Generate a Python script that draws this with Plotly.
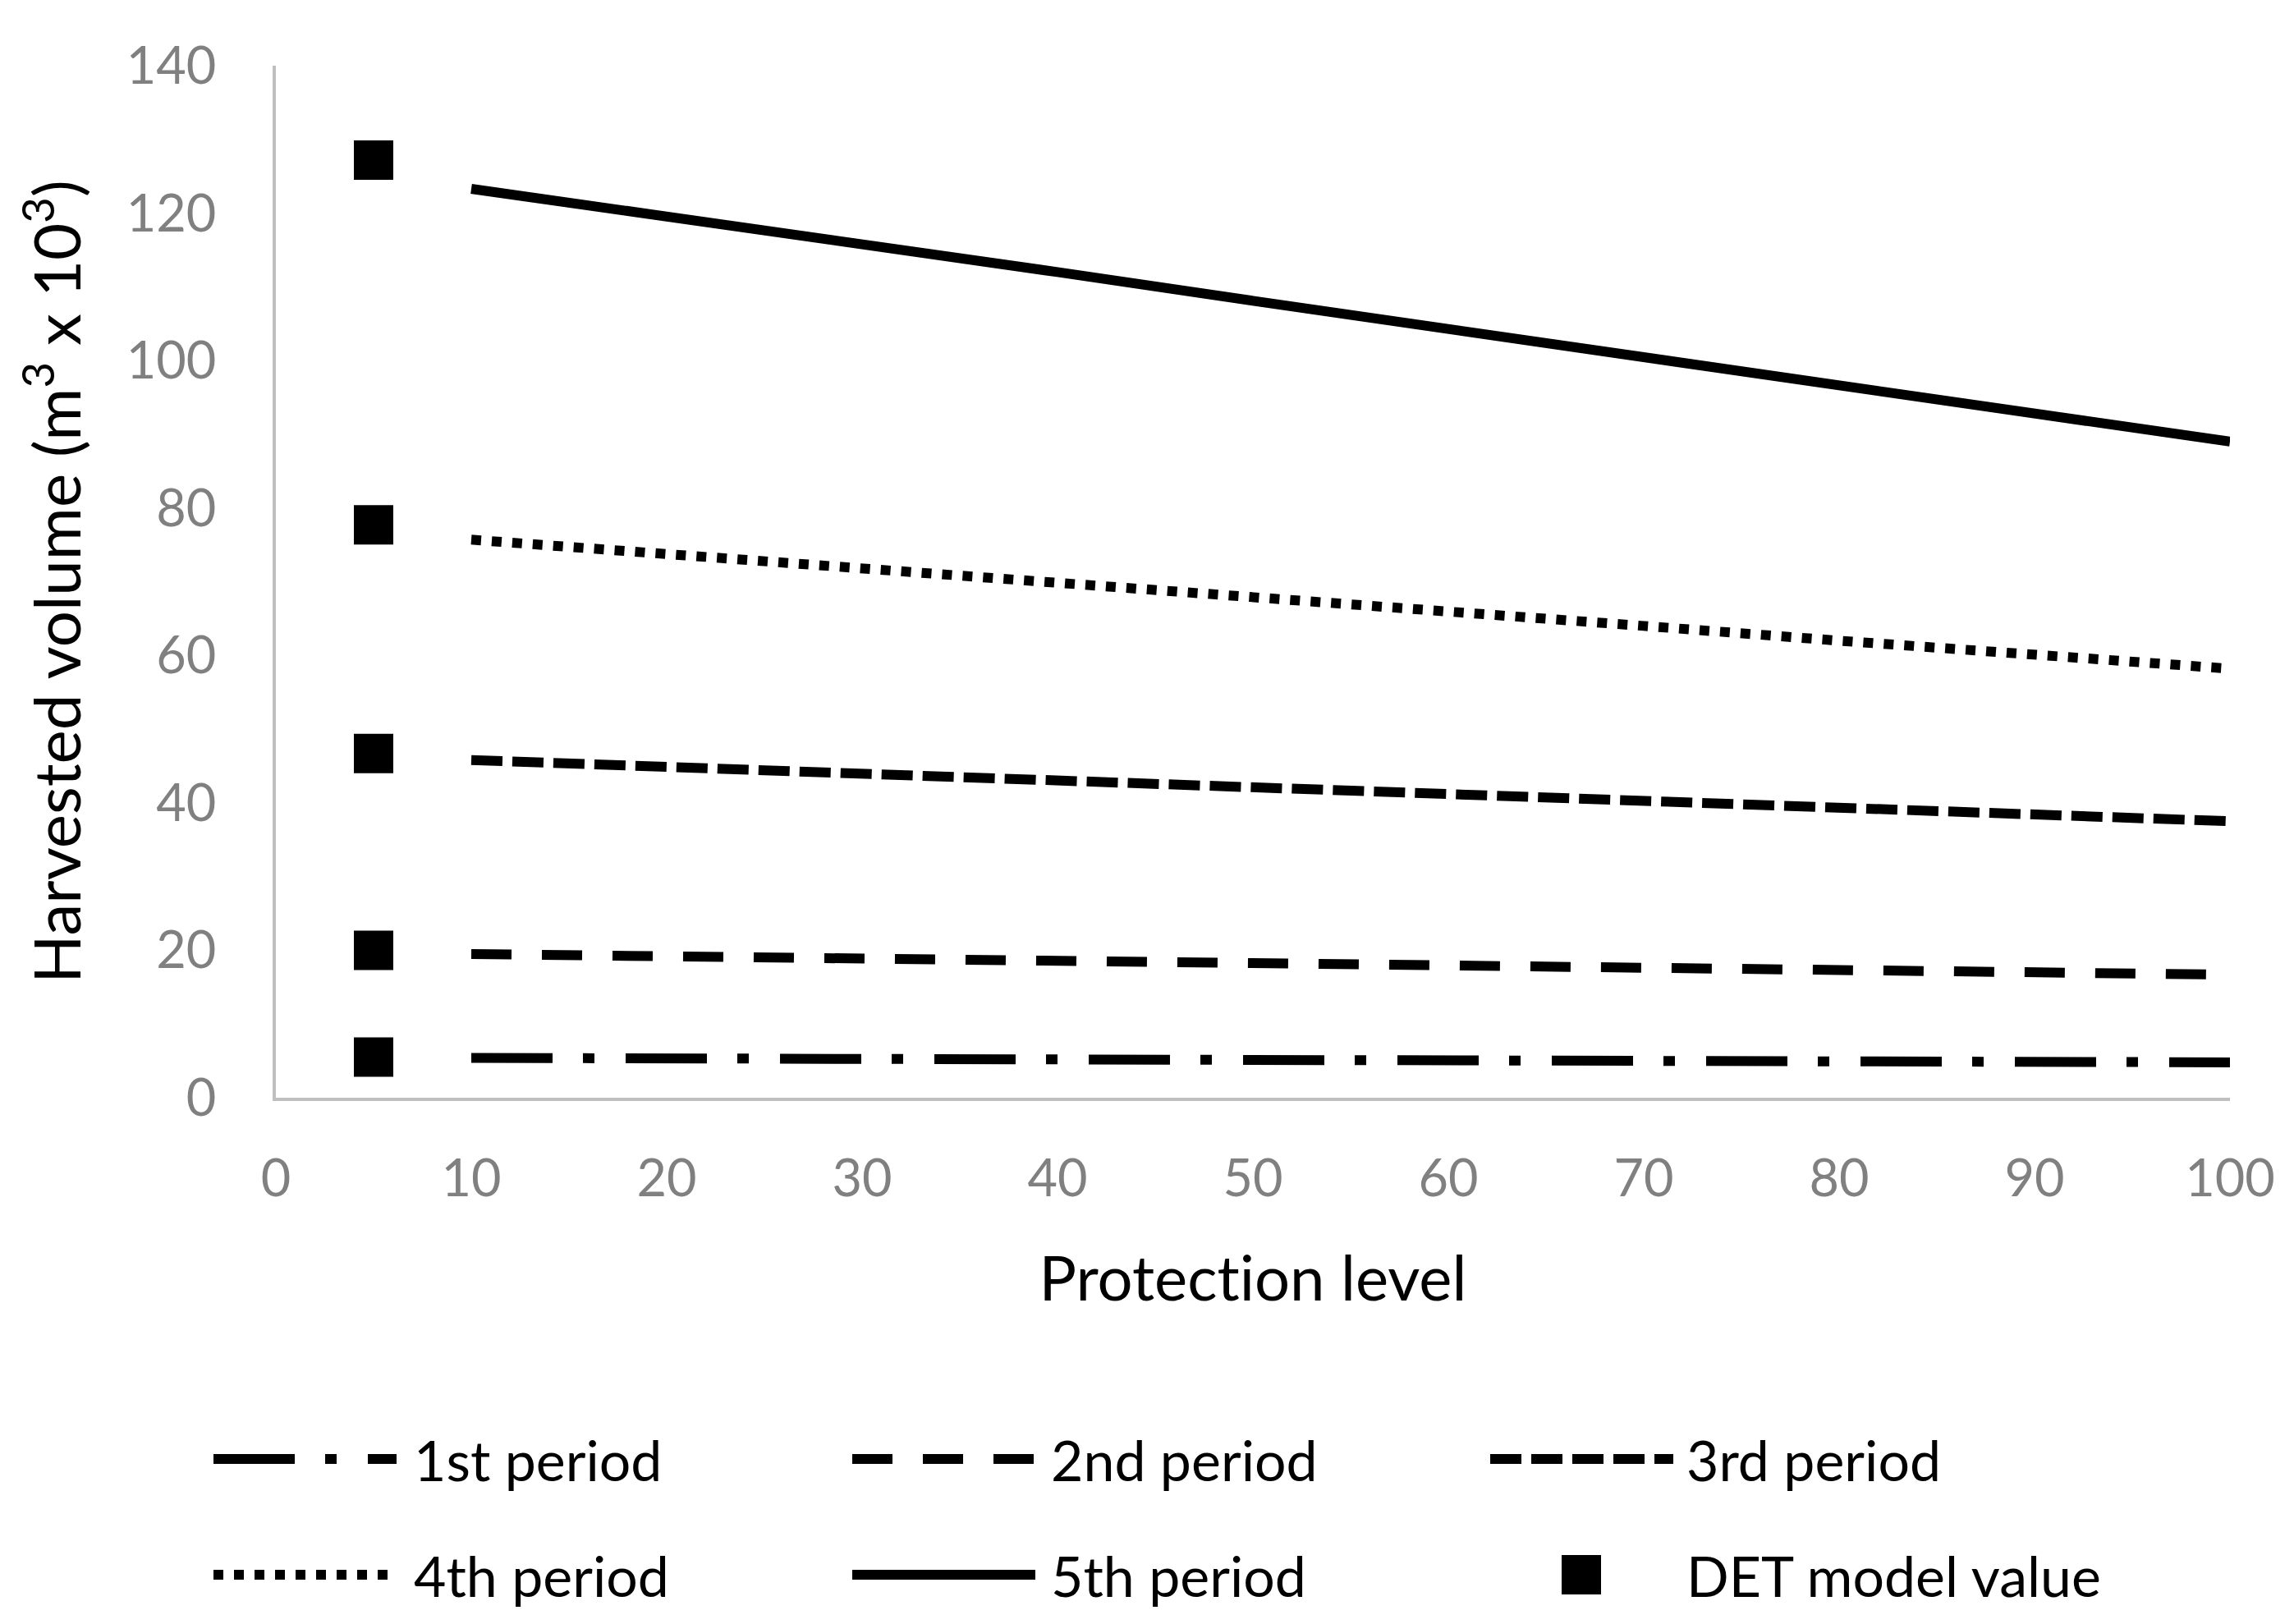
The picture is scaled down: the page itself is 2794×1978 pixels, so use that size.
import plotly.graph_objects as go

# ---- data ----
protection_level = [10, 20, 30, 40, 50, 60, 70, 80, 90, 100]
period_1 = [5.4, 5.3, 5.3, 5.2, 5.2, 5.1, 5.0, 5.0, 4.9, 4.8]
period_2 = [19.5, 19.2, 18.9, 18.6, 18.3, 18.0, 17.7, 17.4, 17.0, 16.7]
period_3 = [45.8, 44.9, 43.9, 43.0, 42.1, 41.2, 40.3, 39.3, 38.4, 37.5]
period_4 = [75.7, 73.8, 71.8, 69.9, 67.9, 65.9, 64.0, 62.0, 60.1, 58.2]
period_5 = [123.3, 119.6, 115.8, 112.0, 108.1, 104.3, 100.3, 96.5, 92.7, 89.0]
det_x = [5, 5, 5, 5, 5]
det_values = [5.5, 20.0, 46.7, 77.7, 127.2]

series_names = ["1st period", "2nd period", "3rd period", "4th period", "5th period"]
det_name = "DET model value"
x_ticks = [0, 10, 20, 30, 40, 50, 60, 70, 80, 90, 100]
y_ticks = [0, 20, 40, 60, 80, 100, 120, 140]

# ---- styling ----
FONT = "Lato"
LW = 12
dashes = ["99px,37px,14px,38px", "49px,37px", "38px,12px", "12px,13px", "solid"]
series = [period_1, period_2, period_3, period_4, period_5]

W, H = 2794, 1978
ML, MR, MT, MB = 328, 86, 72, 649

fig = go.Figure()
for name, vals, dash in zip(series_names, series, dashes):
    fig.add_trace(go.Scatter(
        x=protection_level, y=vals, mode="lines", name=name,
        line=dict(color="black", width=LW, dash=dash),
        showlegend=False,
    ))
fig.add_trace(go.Scatter(
    x=det_x, y=det_values, mode="markers", name=det_name,
    marker=dict(symbol="square", size=48, color="black"),
    showlegend=False,
))

# ---- custom legend (long line samples like the reference) ----
plot_w = W - ML - MR
plot_h = H - MT - MB

def px_x(p):
    return (p - ML) / plot_w

def px_y(p):
    return (H - MB - p) / plot_h

ROW1, ROW2 = 1769, 1910
legend_items = [
    # name, dash, row_y, line_x0, line_x1, text_x
    (series_names[0], dashes[0], ROW1, 252, 475, 494),
    (series_names[1], dashes[1], ROW1, 1030, 1253, 1270),
    (series_names[2], dashes[2], ROW1, 1807, 2030, 2044),
    (series_names[3], dashes[3], ROW2, 252, 475, 494),
    (series_names[4], dashes[4], ROW2, 1030, 1253, 1270),
]
shapes = []
annotations = []
for name, dash, ry, x0, x1, tx in legend_items:
    shapes.append(dict(
        type="line", xref="paper", yref="paper",
        x0=px_x(x0), x1=px_x(x1), y0=px_y(ry), y1=px_y(ry),
        line=dict(color="black", width=LW, dash=dash),
    ))
    annotations.append(dict(
        xref="paper", yref="paper", x=px_x(tx), y=px_y(ry),
        text=name, showarrow=False, xanchor="left", yanchor="middle",
        font=dict(family=FONT, size=68, color="black"),
    ))
# DET legend marker
shapes.append(dict(
    type="rect", xref="paper", yref="paper",
    xsizemode="pixel", ysizemode="pixel",
    xanchor=px_x(1918), yanchor=px_y(ROW2),
    x0=-24, x1=24, y0=-24, y1=24,
    fillcolor="black", line=dict(width=0),
))
annotations.append(dict(
    xref="paper", yref="paper", x=px_x(2044), y=px_y(ROW2),
    text=det_name, showarrow=False, xanchor="left", yanchor="middle",
    font=dict(family=FONT, size=68, color="black"),
))

fig.update_layout(
    width=W, height=H,
    margin=dict(l=ML, r=MR, t=MT, b=MB, autoexpand=False),
    paper_bgcolor="white", plot_bgcolor="white",
    font=dict(family=FONT, color="black"),
    shapes=shapes, annotations=annotations,
    showlegend=False,
)
fig.update_xaxes(
    range=[0, 100], tickvals=x_ticks, ticktext=[str(v) for v in x_ticks],
    showgrid=False, zeroline=False,
    showline=True, linecolor="#BFBFBF", linewidth=4,
    ticks="outside", ticklen=40, tickcolor="rgba(0,0,0,0)",
    tickfont=dict(family=FONT, size=63, color="#808080"),
    title=dict(text="Protect\u200cion level", font=dict(family=FONT, size=76, color="black"), standoff=63),
    automargin=False,
)
fig.update_yaxes(
    range=[0, 140], tickvals=y_ticks, ticktext=[str(v) for v in y_ticks],
    showgrid=False, zeroline=False,
    showline=True, linecolor="#BFBFBF", linewidth=4,
    ticks="outside", ticklen=56, tickcolor="rgba(0,0,0,0)",
    tickfont=dict(family=FONT, size=63, color="#808080"),
    title=dict(text="Harvested volume (m<sup>3</sup> x 10<sup>3</sup>)",
               font=dict(family=FONT, size=78, color="black"), standoff=30),
    automargin=False,
)

fig.write_html("out.html")
